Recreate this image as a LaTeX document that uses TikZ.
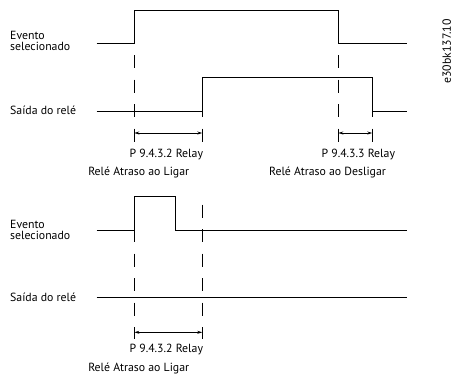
\documentclass[tikz,border=0pt]{standalone}
\usepackage{fontspec}
\setmainfont{PT Sans}
\usetikzlibrary{arrows.meta}

\begin{document}
\begin{tikzpicture}[x=1pt,y=-1pt,
    signal/.style={line width=0.9pt},
    guide/.style={line width=0.9pt, dash pattern=on 13pt off 11.5pt},
    dimline/.style={line width=0.9pt, {Stealth[length=5pt,width=3pt]}-{Stealth[length=5pt,width=3pt]}},
    lbl/.style={font=\fontsize{11.8}{11.5}\selectfont, inner sep=0pt}]

\useasboundingbox (0,0) rectangle (453,376);

% Top: event and relay output
\draw[signal] (96.7,43.3)--(134.3,43.3)--(134.3,10)--(338.3,10)--(338.3,43.3)--(406.7,43.3);
\draw[signal] (96.7,111.3)--(202.3,111.3)--(202.3,77.7)--(372.3,77.7)--(372.3,111.3)--(406.7,111.3);

% Top: guide lines
\draw[guide] (134.3,55)--(134.3,142);
\draw[guide] (338.3,55)--(338.3,142);
\draw[guide] (202.3,104)--(202.3,142);
\draw[guide] (372.3,104)--(372.3,142);

% Top: delays
\coordinate (on1a) at (134.3,133);
\coordinate (on1b) at (202.3,133);
\coordinate (offa) at (338.3,133);
\coordinate (offb) at (372.3,133);
\draw[dimline] (on1a)--(on1b);
\draw[dimline] (offa)--(offb);

% Top: labels
\node[lbl, anchor=west, align=left] (ev1) at (10,41) {Evento\\selecionado};
\node[lbl, anchor=west] (out1) at (10,110) {Saída do relé};
\node[lbl] (par1) at (166.3,155) {P 9.4.3.2 Relay};
\node[lbl] (txt1) at (138.7,172) {Relé Atraso ao Ligar};
\node[lbl] (par2) at (358.3,155) {P 9.4.3.3 Relay};
\node[lbl] (txt2) at (327.5,172) {Relé Atraso ao Desligar};
\node[lbl, rotate=90] (code) at (446.7,51.5) {e30bk137.10};

% Bottom: short event, relay stays off
\draw[signal] (96.7,230.7)--(134.3,230.7)--(134.3,196)--(175.3,196)--(175.3,230.7)--(406.7,230.7);
\draw[signal] (96.7,297.7)--(406.7,297.7);

% Bottom: guide lines
\draw[guide] (134.3,229)--(134.3,339);
\draw[guide] (202.3,204.5)--(202.3,339);

% Bottom: delay
\coordinate (on2a) at (134.3,332.3);
\coordinate (on2b) at (202.3,332.3);
\draw[dimline] (on2a)--(on2b);

% Bottom: labels
\node[lbl, anchor=west, align=left] (ev2) at (10,230) {Evento\\selecionado};
\node[lbl, anchor=west] (out2) at (10,297) {Saída do relé};
\node[lbl] (par3) at (166.3,350) {P 9.4.3.2 Relay};
\node[lbl] (txt3) at (138.7,368) {Relé Atraso ao Ligar};

\end{tikzpicture}
\end{document}
